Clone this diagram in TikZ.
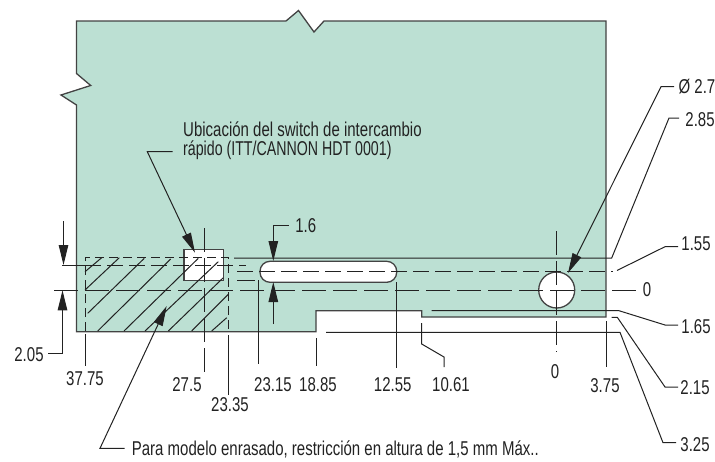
\documentclass[tikz,border=0pt]{standalone}
\usepackage{fontspec}
\usetikzlibrary{arrows.meta}
\setmainfont[FakeStretch=0.75]{Liberation Sans}
\newfontfamily\narrowface[FakeStretch=0.71]{Liberation Sans}
\definecolor{board}{HTML}{BCE0D3}
\definecolor{ink}{HTML}{222222}
\tikzset{
  thin line/.style={draw=ink,line width=1pt},
  outline/.style={draw=ink!85!white,line width=1.3pt,line join=miter},
  center/.style={thin line,dash pattern=on 24pt off 7pt},
  short dash/.style={thin line,dash pattern=on 9pt off 5pt},
  axis/.style={thin line,dash pattern=on 16pt off 6pt},
  arrowed/.style={thin line,-{Triangle[length=20pt,width=9.5pt]}},
  txt/.style={font=\fontsize{20pt}{22pt}\selectfont,text=ink,inner sep=0pt,anchor=center},
  txtl/.style={txt,anchor=west,align=left}
}
\begin{document}
\begin{tikzpicture}[x=1pt,y=-1pt]
\useasboundingbox (0,0) rectangle (715,461);
% board
\path[fill=board,outline] (76.5,21) -- (286,21) -- (298.5,10.5) -- (314,32) -- (324,21) -- (606,21)
  -- (606,317) -- (421.7,317) -- (421.7,310.7) -- (316,310.7) -- (316,331.7) -- (76.5,331.7)
  -- (76.5,105) -- (61,95) -- (90.7,85.5) -- (76.5,73.5) -- cycle;
% white cut-outs
\path[fill=white,outline] (184,249.7) rectangle (223.5,280.3);
\path[fill=white,outline,rounded corners=10pt] (260,261.3) rectangle (396.7,282.3);
\path[fill=white,outline] (556.7,290) circle[radius=18];
% hatching
\draw[thin line] (85,271.7)--(101.7,257.7) (85,290)--(119.3,257.7) (87.7,313.3)--(144.3,258.3)
  (97.7,331)--(170.7,259) (124,331)--(198.3,258.3) (145,331)--(218.3,261.7)
  (168.3,331)--(223.3,277.7) (191.7,331)--(228.3,294.3) (211.7,331)--(226.7,317.7);
% hatch zone border
\draw[short dash] (85,331) -- (85,257.3) -- (228.5,257.3) -- (228.5,331);
% horizontal reference lines
\draw[thin line] (62,265) -- (85,265);
\draw[axis] (85,265) -- (246,265);
\draw[thin line] (234,258) -- (611.7,258) -- (669,118) -- (679,118);
\draw[axis] (237,271) -- (613,271);
\draw[thin line] (617,270.5) -- (665,246.7) -- (678,246.7);
\draw[thin line] (237,280) -- (255,280);
\draw[center] (54,290.3) -- (638,290.3);
% vertical reference lines
\draw[thin line] (85,334) -- (85,366);
\draw[thin line,dash pattern=on 24pt off 6pt] (204.7,228) -- (204.7,373);
\draw[thin line] (228.5,335) -- (228.5,395);
\draw[thin line] (258.3,280) -- (258.3,364);
\draw[thin line] (316,338) -- (316,366);
\draw[thin line] (396.7,282) -- (396.7,368);
\draw[thin line] (421.7,323) -- (421.7,344) -- (444,357) -- (444,367);
\draw[thin line,dash pattern=on 24pt off 6pt] (556.7,231) -- (556.7,352);
\draw[thin line] (606,321) -- (606,367);
% right-hand leaders
\draw[thin line] (431.7,310.7) -- (619,310.7) -- (665,325) -- (678,325);
\draw[thin line] (611.7,317.3) -- (617.3,317.3) -- (665,387) -- (678,387);
\draw[thin line] (326,332.3) -- (620,332.3) -- (663,442.7) -- (676,442.7);
% arrowed leaders
\draw[arrowed] (63.5,221) -- (63.5,265);
\draw[arrowed] (48,353) -- (62.5,353) -- (62.5,290.3);
\draw[arrowed] (288.7,225.7) -- (273.3,225.7) -- (273.3,261);
\draw[arrowed] (273.3,324) -- (273.3,282);
\draw[arrowed] (172.7,151.7) -- (147.3,151.7) -- (195,252.7);
\draw[arrowed] (124.7,448.3) -- (100,448.3) -- (166.7,306);
\draw[arrowed] (674,86.7) -- (661,86.7) -- (568,273);
% labels
\node[txtl] (ubic) at (183,129) {Ubicación del switch de intercambio};
\node[txtl] (rapido) at (183,150) {\narrowface rápido (ITT/CANNON HDT 0001)};
\node[txtl] (para) at (131.7,449) {Para modelo enrasado, restricción en altura de 1,5 mm Máx..};
\node[txt] (l205) at (29,355) {2.05};
\node[txt] (l3775) at (85,379) {37.75};
\node[txt] (l275) at (187,385) {27.5};
\node[txt] (l2335) at (230,405) {23.35};
\node[txt] (l2315) at (273,385) {23.15};
\node[txt] (l1885) at (318,385) {18.85};
\node[txt] (l1255) at (392.7,385) {12.55};
\node[txt] (l1061) at (451,385) {10.61};
\node[txt] (l0b) at (555,372) {0};
\node[txt] (l375) at (605,386) {3.75};
\node[txt] (l16) at (305.7,226) {1.6};
\node[txt] (l0) at (647,290) {0};
\node[txt] (l27) at (697,87) {Ø 2.7};
\node[txt] (l285) at (700,120) {2.85};
\node[txt] (l155) at (696,244) {1.55};
\node[txt] (l165) at (696,327) {1.65};
\node[txt] (l215) at (695,388) {2.15};
\node[txt] (l325) at (695,445) {3.25};
\end{tikzpicture}
\end{document}
